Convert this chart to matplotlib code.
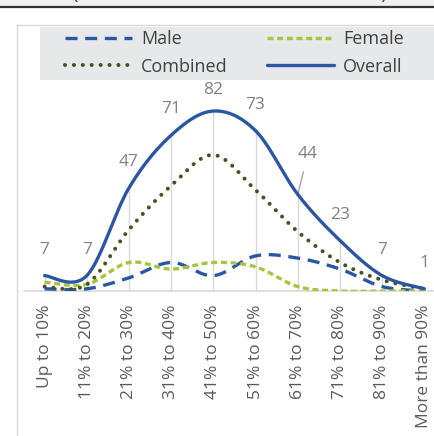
import matplotlib
matplotlib.use('Agg')
import matplotlib.pyplot as plt
from matplotlib.lines import Line2D
from matplotlib.patches import Rectangle
import numpy as np

plt.rcParams['font.family'] = ['Open Sans', 'DejaVu Sans']

# Datos
categories = ['Up to 10%', '11% to 20%', '21% to 30%', '31% to 40%', '41% to 50%',
              '51% to 60%', '61% to 70%', '71% to 80%', '81% to 90%', 'More than 90%']
male = [1, 1, 6, 13, 7, 16, 15, 10, 2, 0]
female = [4, 3, 13, 10, 13, 11, 2, 0, 0, 0]
combined = [2, 3, 28, 48, 62, 46, 27, 13, 5, 1]
overall = [7, 7, 47, 71, 82, 73, 44, 23, 7, 1]

# Estilos
BLUE = '#2b56a3'
GREEN = '#a8c43c'
OLIVE = '#465320'
GRID = '#d9d9d9'
LABEL = '#808080'

W, H = 435, 436


def fx(px):
    return px / W


def fy(py):
    return 1 - py / H


def smooth(vals, n=24):
    # curva suavizada tipo Excel (Catmull-Rom con Bezier)
    p = np.array(vals, dtype=float)
    x = np.arange(len(p), dtype=float)
    xs, ys = [], []
    for i in range(len(p) - 1):
        i0, i3 = max(i - 1, 0), min(i + 2, len(p) - 1)
        c1x = x[i] + (x[i + 1] - x[i0]) / 6
        c1y = p[i] + (p[i + 1] - p[i0]) / 6
        c2x = x[i + 1] - (x[i3] - x[i]) / 6
        c2y = p[i + 1] - (p[i3] - p[i]) / 6
        t = np.linspace(0, 1, n, endpoint=(i == len(p) - 2))
        a, b, c, d = (1 - t) ** 3, 3 * (1 - t) ** 2 * t, 3 * (1 - t) * t ** 2, t ** 3
        xs.append(a * x[i] + b * c1x + c * c2x + d * x[i + 1])
        ys.append(a * p[i] + b * c1y + c * c2y + d * p[i + 1])
    return np.concatenate(xs), np.concatenate(ys)


fig = plt.figure(figsize=(W / 100, H / 100), dpi=100)

# --- marco superior (resto del titulo) ---
fig.add_artist(Rectangle((0, fy(6)), 1, 6 / H, transform=fig.transFigure,
                         color='#f0f0f0', lw=0))
fig.add_artist(Line2D([0, 1], [fy(7), fy(7)], transform=fig.transFigure,
                      color='#333333', lw=1.6))
fig.text(fx(74), fy(4.5), '(', fontsize=16, color='#4f5b26', ha='center', va='bottom')
fig.text(fx(384), fy(4.5), ')', fontsize=16, color='#4f5b26', ha='center', va='bottom')

# borde del grafico
fig.add_artist(Line2D([fx(17), fx(17)], [fy(25), 0], transform=fig.transFigure,
                      color=GRID, lw=1))
fig.add_artist(Line2D([fx(17), 1], [fy(25), fy(25)], transform=fig.transFigure,
                      color=GRID, lw=1))
# fondo de la leyenda
fig.add_artist(Rectangle((fx(40), fy(80)), 1, 53 / H, transform=fig.transFigure,
                         color='#e7e8e9', lw=0))

# --- ejes ---
ax = fig.add_axes([fx(23.5), fy(291), 422 / W, 90 * 2.195 / H])
ax.set_xlim(-0.5, 9.5)
ax.set_ylim(0, 90)
ax.patch.set_alpha(0)

x = np.arange(len(categories))
ax.vlines(x, 0, overall, color=GRID, lw=1, zorder=1)

xs, ys = smooth(male)
l_male, = ax.plot(xs, ys, color=BLUE, lw=2.4, ls=(0, (3.6, 2.3)), zorder=3)
xs, ys = smooth(female)
l_female, = ax.plot(xs, ys, color=GREEN, lw=2.4, ls=(0, (1.8, 1.1)), zorder=3)
xs, ys = smooth(combined)
l_comb, = ax.plot(xs, ys, color=OLIVE, lw=2.9, ls=(0, (0.01, 2.2)),
                  dash_capstyle='round', zorder=4)
xs, ys = smooth(overall)
l_over, = ax.plot(xs, ys, color=BLUE, lw=2.4, zorder=5, solid_capstyle='round')

# etiquetas de datos
for i, v in enumerate(overall):
    if i == 6:
        ax.annotate(str(v), (i, v), xytext=(10, 40), textcoords='offset pixels',
                    ha='center', va='center', fontsize=12.5, color=LABEL,
                    arrowprops=dict(arrowstyle='-', color='#a6a6a6', lw=1,
                                    shrinkA=5, shrinkB=0))
    else:
        dy = 21 if i == 4 else 26
        ax.annotate(str(v), (i, v), xytext=(0, dy), textcoords='offset pixels',
                    ha='center', va='center', fontsize=12.5, color=LABEL,
                    annotation_clip=False)

for s in ['top', 'right', 'left']:
    ax.spines[s].set_visible(False)
ax.spines['bottom'].set_color(GRID)
ax.spines['bottom'].set_linewidth(1.2)
ax.set_yticks([])
ax.set_xticks(x)
ax.set_xticklabels(categories, rotation=90, fontsize=12.5, color='#595959')
ax.tick_params(axis='x', length=0, pad=10)

# leyenda
fig.legend([l_male, l_comb, l_female, l_over],
           ['Male', 'Combined', 'Female', 'Overall'],
           ncol=2, loc='upper left', bbox_to_anchor=(fx(65), fy(30.5)),
           frameon=False, fontsize=13, handlelength=3.7, handletextpad=0.5,
           columnspacing=2.2, labelspacing=0.5, borderpad=0, borderaxespad=0,
           labelcolor='#404040')

fig.savefig('out.png', dpi=100)
